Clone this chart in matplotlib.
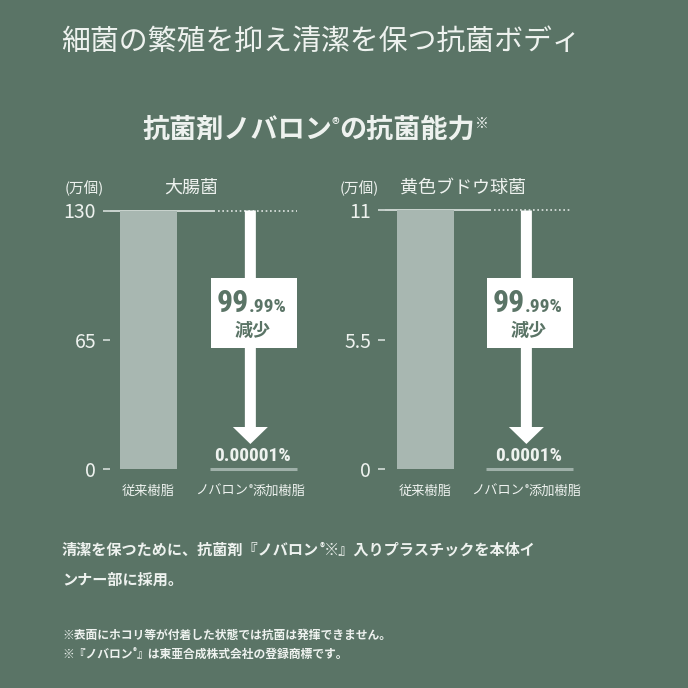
import numpy as np
import matplotlib
matplotlib.use('Agg')
import matplotlib.pyplot as plt
from matplotlib import font_manager
from matplotlib.patches import Rectangle, FancyArrow

plt.rcParams['font.family'] = ['Noto Sans CJK JP', 'DejaVu Sans']

# ---- data ----
panels = ['大腸菌', '黄色ブドウ球菌']
categories = ['従来樹脂', 'ノバロン', '添加樹脂']      # 2nd label = ノバロン® + 添加樹脂
conventional = [130, 11]                          # 万個
remain_pct = [0.00001, 0.0001]                    # % remaining after Novalon
remain_label = ['0.00001%', '0.0001%']
reduction_big = '99'
reduction_small = '.99%'
yticks = [[0, 65, 130], [0, 5.5, 11]]
ytick_labels = [['0', '65', '130'], ['0', '5.5', '11']]
unit = '(万個)'

novalon = [c * p / 100 for c, p in zip(conventional, remain_pct)]

# ---- colours ----
bg = '#5a7466'
bar_c = '#a8b7b1'
thin_c = '#9fb0a9'
txt_c = '#eef2ef'
line_c = '#dfe6e2'

# narrow font for the numbers
names = {f.name for f in font_manager.fontManager.ttflist}
narrow = None
for cand in ['Liberation Sans Narrow', 'Roboto Condensed', 'Open Sans Condensed']:
    if cand in names:
        narrow = cand
        break
if narrow:
    num_kw = {'family': narrow}
    big_fs, small_fs, rem_fs = 23, 14, 14
else:
    num_kw = {'family': 'Roboto'}
    big_fs, small_fs, rem_fs = 22.5, 12, 11.5

W = H = 688
fig = plt.figure(figsize=(6.88, 6.88), dpi=100)
fig.patch.set_facecolor(bg)


def fx(p):
    return p / W


def fy(p):
    return 1 - p / H


def rich(x_px, y_px, pieces, ha='left', **common):
    # pieces: (text, extra kwargs); y_px = baseline
    r = fig.canvas.get_renderer()
    objs = []
    for s, kw in pieces:
        o = dict(common)
        o.update(kw)
        dy = o.pop('dy', 0)
        t = fig.text(0, fy(y_px - dy), s, ha='left', va='baseline', **o)
        objs.append(t)
    widths = [t.get_window_extent(r).width for t in objs]
    x = x_px - (sum(widths) / 2 if ha == 'center' else 0)
    for t, w in zip(objs, widths):
        t.set_x(fx(x))
        x += w


# titles
fig.text(fx(61), fy(42), '細菌の繁殖を抑え清潔を保つ抗菌ボディ', fontsize=20.8,
         color=txt_c, va='center', ha='left')
rich(142, 138, [('抗菌剤ノバロン', {}), ('®', {'fontsize': 11, 'dy': 9}),
                ('の抗菌能力', {}), ('※', {'fontsize': 10, 'weight': 'normal', 'dy': 10})],
     fontsize=19.5, weight='bold', color=txt_c)

# chart layout (pixels)
spine_x = [110, 385]
right_x = [305, 585]
cat0_x = [148.5, 425.5]
step = [105, 104]
title_x = [191, 463]
zero_y, top_y = 469, 210.5
ax_top, ax_bot = 200, 485

for i in range(2):
    s = step[i]
    vmax = yticks[i][-1]
    sc = (zero_y - top_y) / vmax
    ax = fig.add_axes([fx(spine_x[i]), fy(ax_bot), (right_x[i] - spine_x[i]) / W,
                       (ax_bot - ax_top) / H])
    ax.set_facecolor('none')
    x0 = (spine_x[i] - cat0_x[i]) / s
    x1 = (right_x[i] - cat0_x[i]) / s
    ax.set_xlim(x0, x1)
    ax.set_ylim(-(ax_bot - zero_y) / sc, vmax + (top_y - ax_top) / sc)
    for sp in ax.spines.values():
        sp.set_visible(False)

    ax.bar(0, conventional[i], width=57 / s, color=bar_c, zorder=2)
    ax.bar(1, novalon[i], width=87 / s, color=thin_c, edgecolor=thin_c,
           linewidth=2.2, zorder=2)

    ax.plot([x0, 0.63], [vmax, vmax], color=line_c, lw=1.2, clip_on=False,
            solid_capstyle='butt', zorder=1)
    ax.plot([0.66, 1.41], [vmax, vmax], color=line_c, lw=1.2, ls=(0, (1, 1.6)),
            clip_on=False, zorder=1)

    ax.set_yticks(yticks[i], ytick_labels[i])
    ax.tick_params(axis='y', length=5, width=1.1, color=line_c, labelcolor=txt_c,
                   labelsize=14, pad=5)
    ax.set_xticks([])

    # arrow
    tip = (zero_y - 444) / sc
    ax.add_patch(FancyArrow(0.97, vmax, 0, tip - vmax, width=11 / s,
                            head_width=35 / s, head_length=17 / sc,
                            length_includes_head=True, color='white', lw=0, zorder=3))
    # box
    ax.add_patch(Rectangle((1 - 43 / s, (zero_y - 348) / sc), 86 / s, 70 / sc,
                           facecolor='white', edgecolor='none', zorder=4))
    xs = 1 - 5 / s
    ax.text(xs, (zero_y - 312) / sc, reduction_big, ha='right', va='baseline',
            fontsize=big_fs, weight='bold', color=bg, zorder=5, **num_kw)
    ax.text(xs, (zero_y - 312) / sc, reduction_small, ha='left', va='baseline',
            fontsize=small_fs, weight='bold', color=bg, zorder=5, **num_kw)
    ax.text(0.99, (zero_y - 330) / sc, '減少', ha='center', va='center',
            fontsize=13, weight='bold', color=bg, zorder=5)
    ax.text(0.99, (zero_y - 456) / sc, remain_label[i], ha='center', va='center',
            fontsize=rem_fs, weight='bold', color=txt_c, zorder=5, **num_kw)

    # headings
    fig.text(fx(title_x[i]), fy(188), panels[i], ha='center', va='center',
             fontsize=13, color=txt_c)
    fig.text(fx(spine_x[i] - 6), fy(188), unit, ha='right', va='center',
             fontsize=10.5, color=txt_c)

    # category labels
    fig.text(fx(cat0_x[i]), fy(491), categories[0], ha='center', va='center',
             fontsize=9.5, color=txt_c)
    rich(cat0_x[i] + s - 3, 495, [(categories[1], {}), ('®', {'fontsize': 6, 'dy': 4}),
                                 (categories[2], {})],
         ha='center', fontsize=9.5, color=txt_c)

# body text
rich(62, 555, [('清潔を保つために、抗菌剤『ノバロン', {}), ('®', {'fontsize': 7, 'dy': 4}),
               ('※』入りプラスチックを本体イ', {})],
     fontsize=10.9, weight='bold', color=txt_c)
fig.text(fx(62), fy(580), 'ンナー部に採用。', fontsize=10.9, weight='bold',
         color=txt_c, va='center')
fig.text(fx(62), fy(635), '※表面にホコリ等が付着した状態では抗菌は発揮できません。',
         fontsize=8.5, weight='bold', color=txt_c, va='center')
rich(62, 658, [('※『ノバロン', {}), ('®', {'fontsize': 5.5, 'dy': 3}),
               ('』は東亜合成株式会社の登録商標です。', {})],
     fontsize=8.5, weight='bold', color=txt_c)

fig.savefig('out.png', dpi=100, facecolor=bg)
